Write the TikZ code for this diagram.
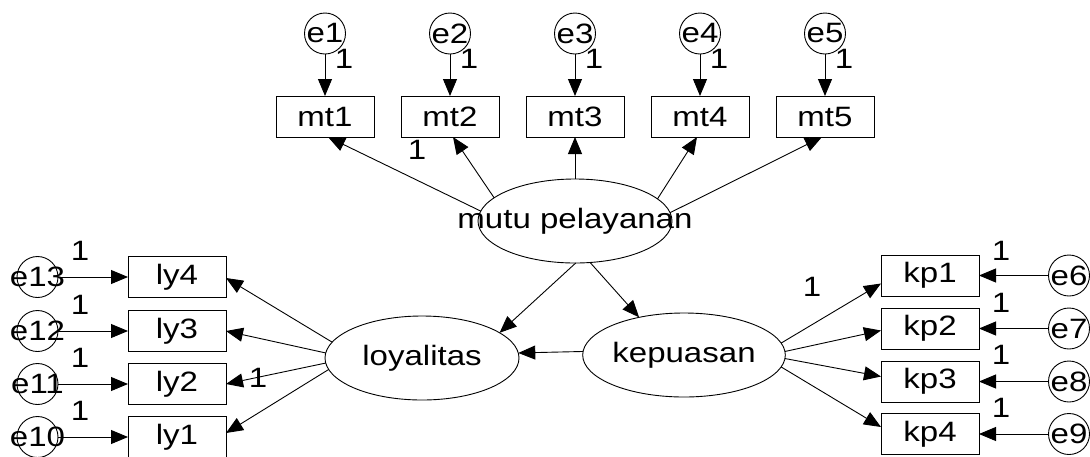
\documentclass[tikz,border=0pt]{standalone}
\usepackage{fontspec}
\setmainfont{Liberation Sans}[FakeStretch=1.18]
\usetikzlibrary{arrows.meta,shapes.geometric,calc}
\newcommand\dfont{\fontsize{28pt}{32pt}\selectfont}
\begin{document}
\begin{tikzpicture}[x=1pt,y=-1pt,
  obs/.style={draw, rectangle, minimum width=98pt, minimum height=41pt, inner sep=0pt, outer sep=0pt, line width=0.9pt, font=\dfont},
  latent/.style={draw, ellipse, minimum width=194pt, minimum height=84pt, inner sep=0pt, outer sep=0pt, line width=0.9pt, font=\dfont},
  err/.style={draw, circle, minimum size=41pt, inner sep=0pt, outer sep=0pt, line width=0.9pt},
  lbl/.style={font=\dfont, inner sep=0pt},
  arr/.style={-{Triangle[length=17pt,width=14pt]}, line width=0.9pt}]
\useasboundingbox (0,0) rectangle (1090,456);
% top indicators
\foreach \i/\x in {1/325,2/450,3/575,4/700,5/825}{
  \node[obs] (mt\i) at (\x,116.5) {mt\i};
  \node[err, label={[lbl]center:e\i}] (e\i) at (\x,33.5) {};
  \draw[arr] (e\i) -- (mt\i);
  \node[lbl] (lt\i) at (\x+19,59) {1};
}
\node[lbl] (lmt) at (417,150) {1};
% latent variables
\node[latent, label={[lbl]center:mutu pelayanan}] (mutu) at (575,221) {};
\node[latent] (loy) at (422,358) {loyalitas};
\node[latent] (kep) at (684,355) {kepuasan};
% mutu -> indicators
\draw[arr] (mutu.174.6) -- ($(mt1.south)+(3,0)$);
\draw[arr] (mutu.164.5) -- ($(mt2.south)+(3,0)$);
\draw[arr] (mutu.north) -- (mt3.south);
\draw[arr] (mutu.15.5) -- ($(mt4.south)+(-3,0)$);
\draw[arr] (mutu.5.4) -- ($(mt5.south)+(-3,0)$);
% structural paths
\draw[arr] (mutu.-89) -- (loy.18);
\draw[arr] (mutu.-70) -- (kep.140.4);
\draw[arr] (kep.178.2) -- (loy.3.6);
% left indicators
\foreach \i/\e/\y/\ly in {4/13/277/251,3/12/331/305,2/11/384/358,1/10/437/411}{
  \node[obs] (ly\i) at (177,\y) {ly\i};
  \node[err, label={[lbl]center:e\e}] (e\e) at (37.5,\y) {};
  \draw[arr] (e\e) -- (ly\i);
  \node[lbl] (ll\i) at (80,\ly) {1};
}
\draw[arr] (loy.170.5) -- ($(ly4.east)+(0,1)$);
\draw[arr] (loy.177) -- (ly3.east);
\draw[arr] (loy.-177.6) -- (ly2.east);
\draw[arr] (loy.-173) -- ($(ly1.east)+(0,-4)$);
\node[lbl] (lly) at (258,378) {1};
% right indicators
\foreach \i/\e/\y/\ly in {1/6/275.5/251,2/7/328.5/303,3/8/381.5/355,4/9/434/408}{
  \node[obs] (kp\i) at (930,\y) {kp\i};
  \node[err, label={[lbl]center:e\e}] (e\e) at (1069,\y) {};
  \draw[arr] (e\e) -- (kp\i);
  \node[lbl] (lr\i) at (1001,\ly) {1};
}
\draw[arr] (kep.7.7) -- ($(kp1.west)+(0,8)$);
\draw[arr] (kep.2.9) -- ($(kp2.west)+(0,2)$);
\draw[arr] (kep.-2.9) -- ($(kp3.west)+(0,-5)$);
\draw[arr] (kep.-7.1) -- ($(kp4.west)+(0,-7)$);
\node[lbl] (lkp) at (812,287) {1};
\end{tikzpicture}
\end{document}
